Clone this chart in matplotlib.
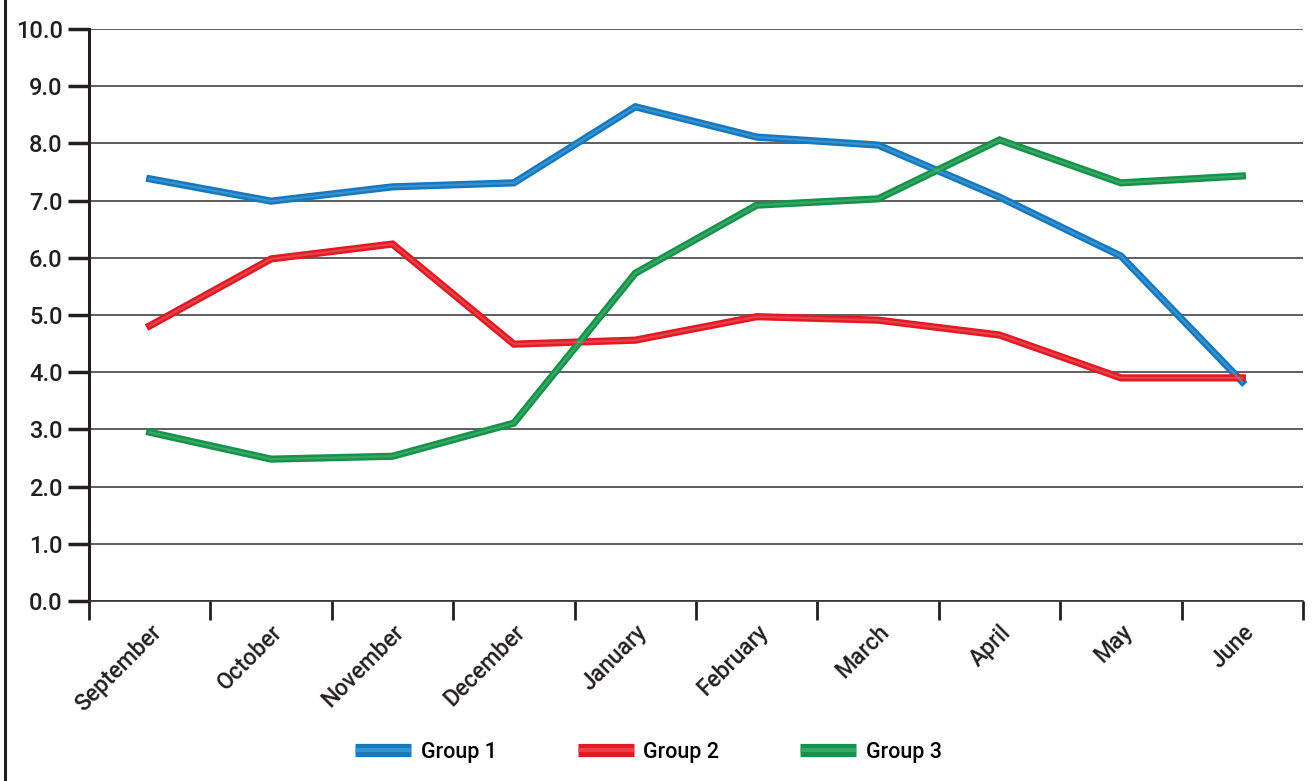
import matplotlib.pyplot as plt
from matplotlib.lines import Line2D
from matplotlib.legend_handler import HandlerTuple

plt.rcParams['font.family'] = ['Roboto', 'DejaVu Sans']
plt.rcParams['font.weight'] = 'medium'

months = ['September', 'October', 'November', 'December', 'January',
          'February', 'March', 'April', 'May', 'June']
group1 = [7.38, 6.99, 7.24, 7.31, 8.64, 8.11, 7.97, 7.06, 6.03, 3.83]
group2 = [4.81, 5.98, 6.24, 4.49, 4.56, 4.97, 4.91, 4.65, 3.90, 3.90]
group3 = [2.95, 2.48, 2.53, 3.11, 5.73, 6.92, 7.03, 8.06, 7.31, 7.43]
series_names = ['Group 1', 'Group 2', 'Group 3']

# base colour, highlight colour for a tube-like stroke
colors = [('#1778bd', '#4aa6dc'), ('#e01b24', '#f05a62'), ('#17924a', '#4cb878')]

fig = plt.figure(figsize=(13.13, 7.81), dpi=100)
ax = fig.add_axes([0.0678, 0.2305, 0.9246, 0.7324])

x = list(range(len(months)))
handles = []
for vals, (base, light) in zip([group1, group2, group3], colors):
    ax.plot(x, vals, color=base, lw=5.2, solid_joinstyle='miter', zorder=3)
    ax.plot(x, vals, color=light, lw=1.6, alpha=0.6, zorder=4)
    h1 = Line2D([], [], color=base, lw=9.5, solid_capstyle='butt')
    h2 = Line2D([], [], color=light, lw=3, alpha=0.6, solid_capstyle='butt')
    handles.append((h1, h2))

ax.set_xlim(-0.5, len(months) - 0.5)
ax.set_ylim(0, 10)
ax.set_yticks([i for i in range(11)])
ax.set_yticklabels([f'{i:.1f}' for i in range(11)], fontsize=17, color='#231f20')
ax.yaxis.grid(True, color='#333333', lw=1.1)
ax.set_axisbelow(True)

# category boundaries get the tick marks, labels sit at the centres
ax.set_xticks([i - 0.5 for i in range(len(months) + 1)])
ax.set_xticklabels([])
ax.set_xticks(x, minor=True)
ax.set_xticklabels(months, minor=True, rotation=45, ha='right',
                   rotation_mode='anchor', fontsize=16.5, color='#231f20')
ax.tick_params(axis='x', which='minor', length=0, pad=14)
ax.tick_params(axis='x', which='major', length=14, width=2, color='#231f20')
ax.tick_params(axis='y', length=15, width=2.5, color='#231f20', pad=4)

for side in ['top', 'right']:
    ax.spines[side].set_visible(False)
ax.spines['left'].set_linewidth(2.2)
ax.spines['left'].set_color('#231f20')
ax.spines['bottom'].set_linewidth(1.2)
ax.spines['bottom'].set_color('#333333')

# left frame line
fig.add_artist(Line2D([0.0035, 0.0035], [0, 1], color='#231f20', lw=2.2,
                      transform=fig.transFigure))

fig.legend(handles, series_names, handler_map={tuple: HandlerTuple(ndivide=1)},
           loc='center', bbox_to_anchor=(0.494, 0.037), ncol=3, frameon=False,
           fontsize=15.5, handlelength=2.6, handletextpad=0.45, columnspacing=3.75)

fig.savefig('out.png', dpi=100)
